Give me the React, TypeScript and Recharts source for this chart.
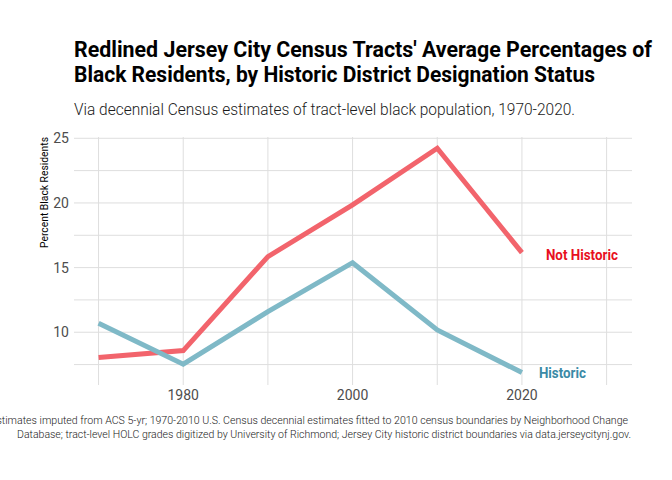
import { LineChart, Line, XAxis, YAxis, CartesianGrid, LabelList } from 'recharts';

// decennial years and tract-level averages
const years = [1970, 1980, 1990, 2000, 2010, 2020];
const notHistoric = [8.04, 8.58, 15.85, 19.85, 24.23, 16.16];
const historic = [10.7, 7.53, 11.59, 15.38, 10.18, 6.88];

const xTicks = [1980, 2000, 2020];
const yTicks = [10, 15, 20, 25];
const xGrid = [1970, 1980, 1990, 2000, 2010, 2020, 2030];
const yGrid = [7.5, 10, 12.5, 15, 17.5, 20, 22.5, 25];

const data = years.map((year, i) => ({
  year,
  'Not Historic': notHistoric[i],
  Historic: historic[i],
}));

const FONT = 'Roboto, "Noto Sans", sans-serif';
const RED_LINE = '#F2646C';
const BLUE_LINE = '#7FB9C7';
const RED_TEXT = '#E8101E';
const BLUE_TEXT = '#3A8AA6';

function endLabel(name: string, color: string, dx: number, dy: number, width: number) {
  return (props: any) => {
    if (props.index !== years.length - 1) return null;
    return (
      <text
        x={Number(props.x) + dx}
        y={Number(props.y) + dy}
        dominantBaseline="central"
        fill={color}
        fontFamily={FONT}
        fontWeight={700}
        fontSize={15}
        textLength={width}
        lengthAdjust="spacingAndGlyphs"
      >
        {name}
      </text>
    );
  };
}

export default function App() {
  return (
    <div style={{ position: 'absolute', left: 0, top: 0, width: 672, height: 480, background: '#fff' }}>
      <LineChart
        width={672}
        height={480}
        data={data}
        margin={{ top: 137, right: 40, bottom: 70, left: 0 }}
      >
        <CartesianGrid
          horizontalValues={yGrid}
          verticalValues={xGrid}
          stroke="#DEDEDE"
          strokeWidth={1}
        />
        <XAxis
          dataKey="year"
          type="number"
          domain={[1967.1, 2033]}
          ticks={xTicks}
          allowDataOverflow
          axisLine={false}
          tickLine={false}
          tickSize={0}
          tickMargin={5}
          height={25}
          tick={{ fill: '#4D4D4D', fontSize: 14, fontFamily: FONT }}
        />
        <YAxis
          type="number"
          domain={[5.92, 25.1]}
          ticks={yTicks}
          allowDataOverflow
          axisLine={false}
          tickLine={false}
          tickSize={0}
          tickMargin={5}
          width={74}
          tick={{ fill: '#4D4D4D', fontSize: 14, fontFamily: FONT }}
        />
        <Line
          dataKey="Not Historic"
          stroke={RED_LINE}
          strokeWidth={5}
          dot={false}
          type="linear"
          isAnimationActive={false}
        >
          <LabelList dataKey="Not Historic" content={endLabel('Not Historic', RED_TEXT, 24, 2, 72)} />
        </Line>
        <Line
          dataKey="Historic"
          stroke={BLUE_LINE}
          strokeWidth={5}
          dot={false}
          type="linear"
          isAnimationActive={false}
        >
          <LabelList dataKey="Historic" content={endLabel('Historic', BLUE_TEXT, 17, 0, 47)} />
        </Line>
      </LineChart>

      <svg
        width={672}
        height={480}
        style={{ position: 'absolute', left: 0, top: 0, pointerEvents: 'none' }}
      >
        <g fontFamily={FONT}>
          <text x={74} y={57} fontSize={21.5} fontWeight={700} fill="#000" textLength={578} lengthAdjust="spacingAndGlyphs">
            Redlined Jersey City Census Tracts' Average Percentages of
          </text>
          <text x={74} y={82} fontSize={21.5} fontWeight={700} fill="#000" textLength={521} lengthAdjust="spacingAndGlyphs">
            Black Residents, by Historic District Designation Status
          </text>
          <text x={74} y={115} fontSize={16.5} fontWeight={300} fill="#1A1A1A" textLength={501} lengthAdjust="spacingAndGlyphs">
            Via decennial Census estimates of tract-level black population, 1970-2020.
          </text>
          <text
            transform="translate(44,137) rotate(-90)"
            textAnchor="end"
            dominantBaseline="central"
            fontSize={11}
            fill="#000"
            textLength={111}
            lengthAdjust="spacingAndGlyphs"
          >
            Percent Black Residents
          </text>
          <text x={-9} y={424} fontSize={11} fontWeight={300} fill="#1A1A1A" textLength={637} lengthAdjust="spacingAndGlyphs">
            estimates imputed from ACS 5-yr; 1970-2010 U.S. Census decennial estimates fitted to 2010 census boundaries by Neighborhood Change
          </text>
          <text x={17} y={438} fontSize={11} fontWeight={300} fill="#1A1A1A" textLength={614} lengthAdjust="spacingAndGlyphs">
            Database; tract-level HOLC grades digitized by University of Richmond; Jersey City historic district boundaries via data.jerseycitynj.gov.
          </text>
        </g>
      </svg>
    </div>
  );
}
